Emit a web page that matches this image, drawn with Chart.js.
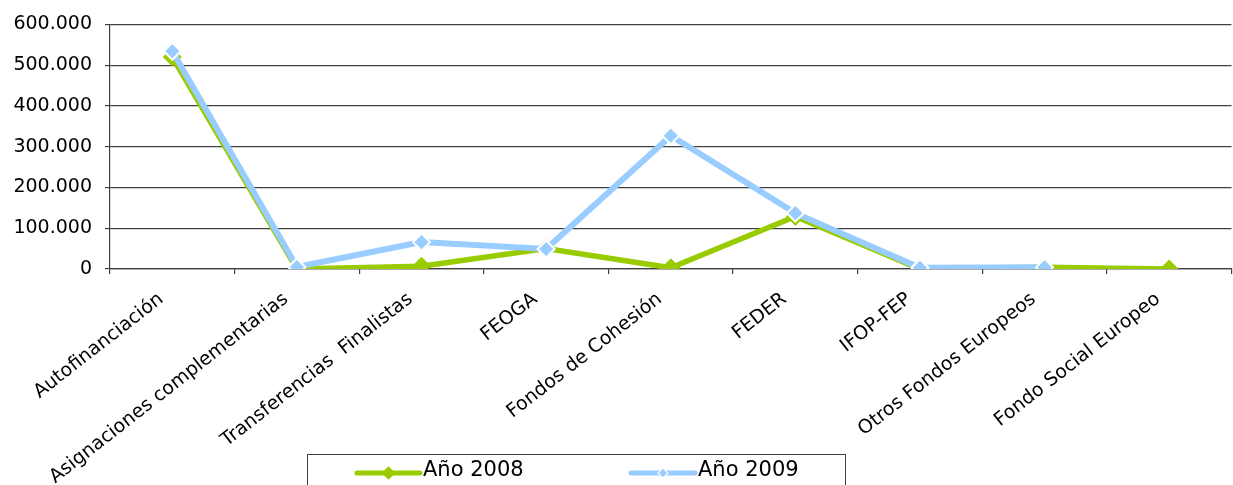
<!DOCTYPE html>
<html>
<head>
<meta charset="utf-8">
<script src="https://cdn.jsdelivr.net/npm/chart.js@4"></script>
<style>
  html, body { margin: 0; padding: 0; background: #fff; overflow: hidden; }
  #wrap { width: 1242px; height: 485px; position: relative; }
</style>
</head>
<body>
<div id="wrap"><canvas id="c"></canvas></div>
<script>
const categories = ["Autofinanciación", "Asignaciones complementarias", "Transferencias  Finalistas", "FEOGA", "Fondos de Cohesión", "FEDER", "IFOP-FEP", "Otros Fondos Europeos", "Fondo Social Europeo"];
const values2008 = [520000, 0, 7000, 50000, 3000, 129000, 0, 4000, 0];
const values2009 = [534000, 5000, 66000, 49000, 327000, 137000, 3000, 4000, null];
const seriesNames = ["Año 2008", "Año 2009"];
const yTicks = [0, 100000, 200000, 300000, 400000, 500000, 600000];

const GREEN = '#99CC00';
const BLUE = '#99CCFF';
const AXIS = '#404040';
const FONT = "'DejaVu Sans', sans-serif";

function fmt(v) {
  return v.toString().replace(/\B(?=(\d{3})+(?!\d))/g, '.');
}

const legendPlugin = {
  id: 'boxLegend',
  afterDraw(chart) {
    const ctx = chart.ctx;
    ctx.save();
    ctx.strokeStyle = AXIS;
    ctx.lineWidth = 1;
    ctx.strokeRect(307.5, 454.5, 538, 45);
    const items = [
      { name: seriesNames[0], color: GREEN, x0: 357, x1: 420, tx: 423, r: 6, border: GREEN },
      { name: seriesNames[1], color: BLUE, x0: 631, x1: 695, tx: 698, r: 5, border: '#ffffff' }
    ];
    const y = 473;
    items.forEach(it => {
      ctx.strokeStyle = it.color;
      ctx.lineWidth = 5;
      ctx.lineCap = 'round';
      ctx.beginPath();
      ctx.moveTo(it.x0, y);
      ctx.lineTo(it.x1, y);
      ctx.stroke();
      const cx = (it.x0 + it.x1) / 2;
      ctx.beginPath();
      ctx.moveTo(cx - it.r, y);
      ctx.lineTo(cx, y - it.r);
      ctx.lineTo(cx + it.r, y);
      ctx.lineTo(cx, y + it.r);
      ctx.closePath();
      ctx.fillStyle = it.color;
      ctx.fill();
      ctx.strokeStyle = it.border;
      ctx.lineWidth = 1.2;
      ctx.stroke();
      ctx.fillStyle = '#000';
      ctx.font = "21px " + FONT;
      ctx.textBaseline = 'middle';
      ctx.textAlign = 'left';
      ctx.fillText(it.name, it.tx, y - 2);
    });
    ctx.restore();
  }
};

new Chart(document.getElementById('c'), {
  type: 'line',
  data: {
    labels: categories,
    datasets: [
      {
        label: seriesNames[0],
        data: values2008,
        borderColor: GREEN,
        backgroundColor: GREEN,
        borderWidth: 5.5,
        tension: 0,
        pointStyle: 'rectRot',
        pointRadius: 9,
        pointBackgroundColor: GREEN,
        pointBorderColor: GREEN,
        pointBorderWidth: 1,
        order: 1
      },
      {
        label: seriesNames[1],
        data: values2009,
        borderColor: BLUE,
        backgroundColor: BLUE,
        borderWidth: 6,
        tension: 0,
        pointStyle: 'rectRot',
        pointRadius: 8.5,
        pointBackgroundColor: BLUE,
        pointBorderColor: '#ffffff',
        pointBorderWidth: 2,
        spanGaps: false,
        order: 0
      }
    ]
  },
  options: {
    responsive: true,
    maintainAspectRatio: false,
    animation: false,
    layout: { padding: { top: 23, right: 2, left: 0, bottom: 0 } },
    plugins: {
      legend: { display: false },
      tooltip: { enabled: false }
    },
    scales: {
      x: {
        offset: true,
        grid: {
          offset: true,
          drawOnChartArea: false,
          drawTicks: true,
          tickLength: 5,
          color: AXIS,
          lineWidth: 1.2
        },
        border: { display: true, color: AXIS, width: 1.2 },
        ticks: {
          autoSkip: false,
          minRotation: 38,
          maxRotation: 38,
          padding: 14,
          labelOffset: -11,
          color: '#000',
          font: { family: FONT, size: 19 }
        },
        afterFit(scale) { scale.height = 216; }
      },
      y: {
        min: 0,
        max: 600000,
        afterBuildTicks(scale) { scale.ticks = yTicks.map(v => ({ value: v })); },
        grid: {
          drawTicks: true,
          tickLength: 5,
          color: AXIS,
          lineWidth: 1.2
        },
        border: { display: true, color: AXIS, width: 1.2 },
        ticks: {
          padding: 13,
          color: '#000',
          font: { family: FONT, size: 19 },
          callback: (v) => fmt(v)
        },
        afterFit(scale) { scale.width = 110; }
      }
    }
  },
  plugins: [legendPlugin]
});
</script>
</body>
</html>
